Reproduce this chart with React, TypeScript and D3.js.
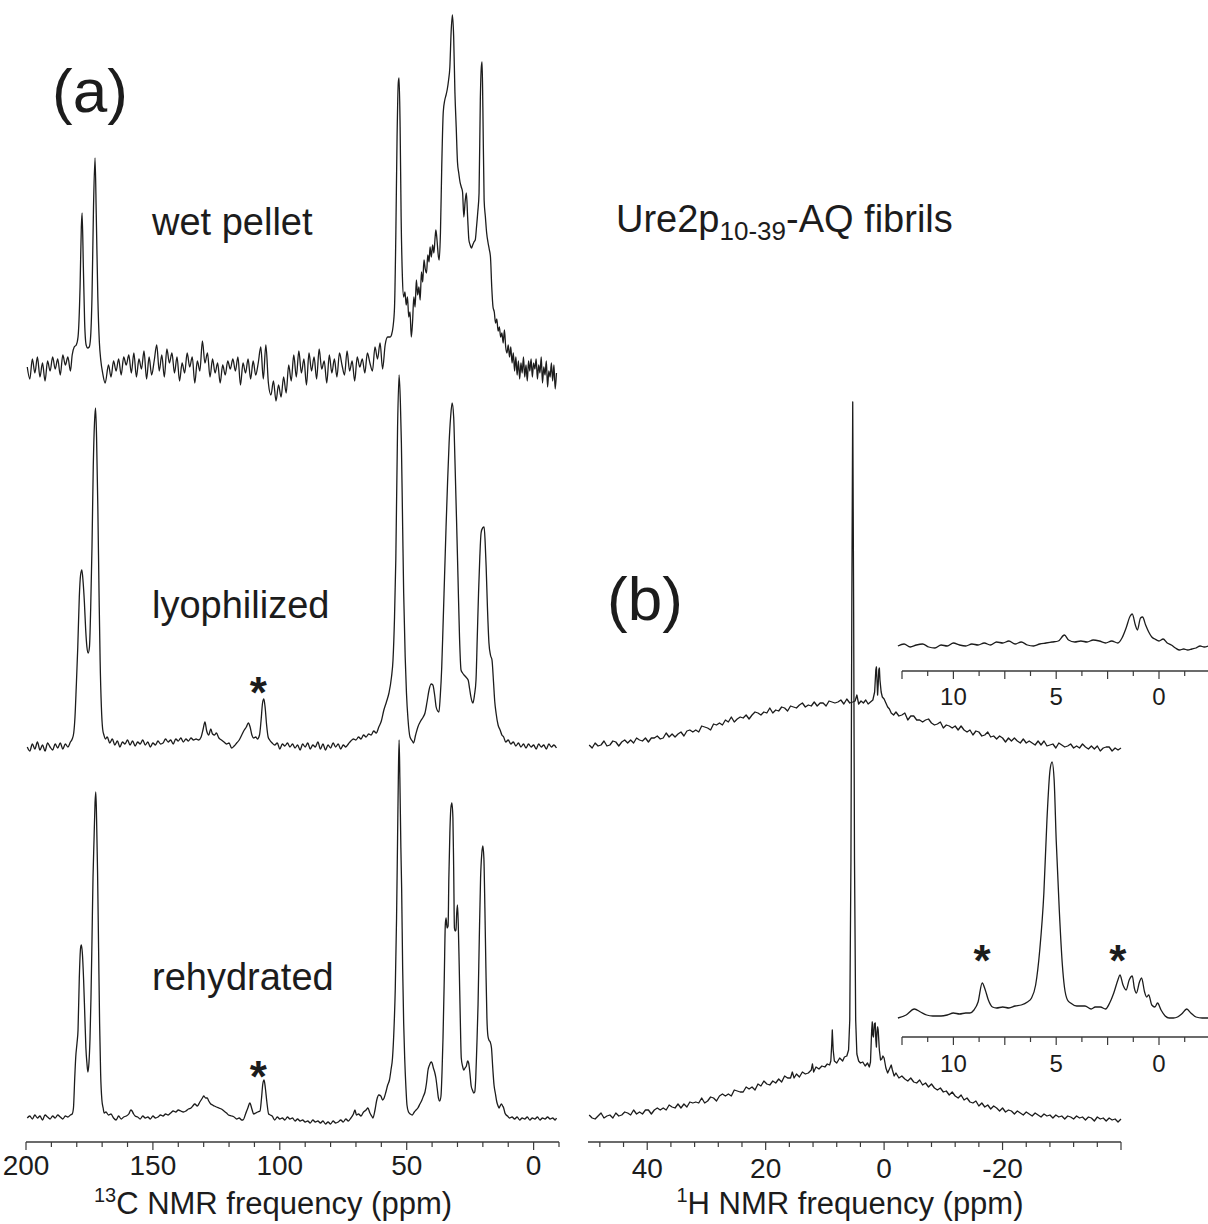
import React, { useEffect, useRef } from 'react';
import * as d3 from 'd3';

type Pt = [number, number];

// 13C CP spectra, [ppm, intensity a.u.]
const wetPellet: Pt[] = [
  [199.5, 0], [198.5, -12], [197.5, 8], [196.5, -6], [195.5, 10], [194.5, -10], [193.5, 4], [192.5, -14], [191.5, 6],
  [190.5, -4], [189.5, 10], [188.5, -2], [187.5, 8], [186.5, -8], [185.5, 12], [184.5, 2], [183.5, 10], [182.5, -4],
  [181.8, 12], [181, 20], [180.2, 22], [179.5, 30], [178.7, 80], [178.2, 140], [177.9, 154], [177.4, 100], [176.9, 45],
  [176.3, 22], [175.7, 19], [175.1, 20], [174.6, 28], [174, 70], [173.4, 160], [172.8, 209], [172.3, 150], [171.7, 70],
  [171.1, 25], [170.5, 6], [169.8, -6], [168.8, -16], [167.5, 2], [166.5, -10], [165.5, 6], [164.5, -4], [163.5, 8],
  [162.5, -8], [161.5, 10], [160.5, 2], [159.5, 12], [158.5, -6], [157.5, 14], [156.5, -10], [155.5, 8], [154.5, -2],
  [153.5, 16], [152.5, -12], [151.5, 10], [150.5, -8], [149.5, 6], [148.5, 22], [147.5, -4], [146.5, 12], [145.5, -10],
  [144.5, 18], [143.5, 4], [142.5, 14], [141.5, -6], [140.5, 10], [139.5, -14], [138.5, 4], [137.5, -6], [136.5, 14],
  [135.5, 0], [134.5, 10], [133.5, -16], [132.5, 6], [131.5, -4], [130.5, 26], [129.5, 4], [128.5, 14], [127.5, -10],
  [126.5, 8], [125.5, -6], [124.5, 4], [123.5, -16], [122.5, 2], [121.5, -8], [120.5, 6], [119.5, -2], [118.5, 8],
  [117.5, -4], [116.5, 10], [115.5, -18], [114.5, 4], [113.5, -6], [112.5, 8], [111.5, -12], [110.5, 6], [109.5, -8],
  [108.5, 4], [107.5, 20], [106.5, -12], [105.5, 22], [104.5, -16], [103.5, -28], [102.5, -14], [101.5, -34], [100.5, -18],
  [99.5, -30], [98.5, -10], [97.5, -26], [96.5, 2], [95.5, -14], [94.5, 12], [93.5, -10], [92.5, 16], [91.5, -6],
  [90.5, 8], [89.5, -18], [88.5, 14], [87.5, -4], [86.5, 10], [85.5, -12], [84.5, 18], [83.5, -2], [82.5, 6],
  [81.5, -16], [80.5, 12], [79.5, -6], [78.5, 8], [77.5, -10], [76.5, 14], [75.5, 2], [74.5, -8], [73.5, 16],
  [72.5, -4], [71.5, 6], [70.5, -14], [69.5, 10], [68.5, 0], [67.5, 8], [66.5, -6], [65.5, 14], [64.5, 4],
  [63.5, -4], [62.5, 20], [61.5, 8], [60.5, 24], [59.5, -2], [58.5, 22], [57.5, 30], [56.5, 30], [56, 32],
  [55.4, 40], [54.8, 60], [54.3, 130], [53.8, 230], [53.3, 285], [53, 289], [52.6, 240], [52.2, 150], [51.7, 90],
  [51.2, 70], [50.7, 75], [50.2, 62], [49.7, 70], [49.2, 50], [48.7, 55], [48.2, 30], [47.7, 45], [47.2, 70],
  [46.7, 60], [46.2, 87], [45.7, 72], [45.2, 80], [44.7, 67], [44.2, 95], [43.7, 85], [43.2, 107], [42.7, 98],
  [42.2, 94], [41.7, 112], [41.2, 105], [40.8, 120], [40.3, 110], [39.8, 122], [39.3, 114], [38.8, 130], [38.5, 137],
  [38, 125], [37.5, 110], [37.2, 107], [36.7, 135], [36.2, 200], [35.6, 255], [35, 267], [34.5, 272], [34, 278],
  [33.5, 287], [33, 300], [32.5, 335], [32, 352], [31.5, 330], [31, 274], [30.5, 240], [30, 205], [29.5, 194],
  [29, 185], [28.5, 180], [28, 175], [27.5, 150], [27, 165], [26.5, 174], [26, 150], [25.5, 127], [25, 122],
  [24.5, 119], [24, 122], [23.5, 125], [23, 127], [22.5, 140], [22, 155], [21.5, 174], [21, 267], [20.6, 300],
  [20.3, 305], [20, 260], [19.5, 167], [19, 150], [18.5, 134], [18, 125], [17.5, 118], [17, 110], [16.5, 80],
  [16, 60], [15.5, 55], [15, 44], [14.5, 48], [14, 36], [13.5, 40], [13, 30], [12.5, 34], [12, 24],
  [11.5, 37], [11, 20], [10.5, 14], [10, 22], [9.5, 10], [9, 20], [8.5, 4], [8, 14], [7.5, -4],
  [7, 10], [6.5, -8], [6, 6], [5.5, -12], [5, 4], [4.5, -6], [4, 10], [3.5, -10], [3, 2],
  [2.5, -14], [2, 6], [1.5, -4], [1, 8], [0.5, -10], [0, 4], [-0.5, -2], [-1, 8], [-1.5, -12],
  [-2, 2], [-2.5, -6], [-3, 10], [-3.5, -16], [-4, 0], [-4.5, -8], [-5, 6], [-5.5, -20], [-6, -4],
  [-6.5, -10], [-7, 4], [-7.5, -14], [-8, 2], [-8.5, -22], [-9, -6],
];

const lyophilized: Pt[] = [
  [199.5, 0], [198.5, -4], [197.5, 3], [196.5, -2], [195.5, 5], [194.5, -3], [193.5, 2], [192.5, -4], [191.5, 4],
  [190.5, 0], [189.5, -3], [188.5, 3], [187.5, -1], [186.5, 4], [185.5, -2], [184.5, 3], [183.5, 0], [182.5, 5],
  [181.8, 8], [181.2, 14], [180.7, 30], [180.2, 60], [179.6, 100], [179, 150], [178.5, 172], [178, 177], [177.5, 165],
  [177, 145], [176.5, 118], [176, 100], [175.5, 94], [175, 100], [174.5, 140], [174, 200], [173.5, 280], [173, 325],
  [172.6, 339], [172.2, 310], [171.7, 240], [171.2, 150], [170.8, 87], [170.3, 40], [169.8, 18], [169.3, 12], [168.7, 8],
  [168, 10], [167, 4], [166, 8], [165, 2], [164, 6], [163, 0], [162, 5], [161, 3], [160, 7],
  [159, 2], [158, 6], [157, 1], [156, 5], [155, 3], [154, 7], [153, 2], [152, 5], [151, 0],
  [150, 4], [149, 2], [148, 6], [147, 3], [146, 4], [145, 8], [144, 5], [143, 7], [142, 3],
  [141, 8], [140, 6], [139, 9], [138, 5], [137, 8], [136, 6], [135, 9], [134, 7], [133, 8],
  [132, 7], [131, 10], [130.2, 18], [129.5, 25], [128.8, 16], [128, 12], [127.2, 18], [126.5, 13], [125.7, 12],
  [125, 14], [124, 9], [123, 7], [122, 5], [121, 3], [120, 4], [119, -1], [118, 1], [117, 4],
  [116, 7], [115, 12], [114, 17], [113.2, 20], [112.4, 24], [111.7, 20], [111, 12], [110.3, 9], [109.5, 10],
  [108.8, 8], [108, 12], [107.4, 26], [106.8, 44], [106.3, 48], [105.8, 40], [105.2, 22], [104.6, 10], [104, 7],
  [103, 4], [102, 2], [101, 4], [100, -2], [99, 3], [98, 1], [97, 4], [96, 0], [95, 3],
  [94, -1], [93, 2], [92, -3], [91, 3], [90, 0], [89, 4], [88, -2], [87, 2], [86, 0],
  [85, 5], [84, -2], [83, 3], [82, -3], [81, 2], [80, -1], [79, 4], [78, 0], [77, 3],
  [76, -2], [75, 2], [74, 0], [73, 3], [72, 6], [71, 8], [70, 7], [69, 10], [68, 8],
  [67, 12], [66, 10], [65, 13], [64, 12], [63, 16], [62, 14], [61, 20], [60, 26], [59, 37],
  [58, 45], [57, 54], [56, 70], [55.4, 87], [54.8, 130], [54.3, 187], [53.6, 320], [53, 372], [52.5, 345],
  [52.1, 304], [51.6, 220], [51.2, 154], [50.6, 90], [50.1, 54], [49.5, 28], [48.7, 10], [47.8, 6], [47.3, 4],
  [46.5, 12], [45.6, 20], [44.5, 26], [43.5, 30], [42.8, 34], [42, 45], [41.2, 57], [40.4, 63], [39.7, 62],
  [39, 52], [38.4, 40], [37.8, 36], [37.3, 35], [36.8, 50], [36.2, 80], [35.7, 120], [35.1, 170], [34.5, 220],
  [33.9, 265], [33.3, 304], [32.7, 330], [32.1, 344], [31.5, 330], [31, 287], [30.4, 230], [29.8, 170], [29.2, 110],
  [28.6, 77], [28, 74], [27.4, 72], [26.7, 70], [25.8, 67], [25.2, 58], [24.7, 50], [24.2, 45], [23.9, 44],
  [23.3, 52], [22.7, 67], [22.2, 110], [21.7, 154], [21.2, 190], [20.7, 214], [20.1, 219], [19.5, 220], [19.1, 205],
  [18.7, 180], [18.2, 140], [17.6, 104], [17, 92], [16.4, 87], [15.8, 65], [15.3, 45], [14.8, 34], [14, 22],
  [13.2, 17], [12.5, 12], [11.8, 10], [11, 5], [10, 7], [9, 3], [8, 5], [7, 1], [6, 4],
  [5, 0], [4, 3], [3, -1], [2, 3], [1, 0], [0, 2], [-1, -2], [-2, 3], [-3, 0],
  [-4, 2], [-5, -2], [-6, 3], [-7, 0], [-8, 2], [-9, -1],
];

const rehydrated: Pt[] = [
  [199.5, 0], [198.5, 2], [197.5, -1], [196.5, 3], [195.5, 0], [194.5, 2], [193.5, -2], [192.5, 3], [191.5, 1],
  [190.5, -1], [189.5, 2], [188.5, 0], [187.5, 3], [186.5, 1], [185.5, -1], [184.5, 2], [183.5, 1], [182.5, 3],
  [181.8, 4], [181.3, 10], [180.8, 40], [180.4, 61], [179.9, 75], [179.5, 88], [179, 140], [178.5, 170], [178.2, 173],
  [177.8, 165], [177.3, 138], [176.8, 100], [176.4, 70], [176, 55], [175.6, 46], [175.2, 55], [174.8, 78], [174.4, 120],
  [174, 178], [173.6, 240], [173.2, 278], [172.8, 315], [172.5, 326], [172.2, 300], [171.8, 245], [171.4, 170], [171, 95],
  [170.6, 45], [170.1, 18], [169.6, 10], [169.2, 5], [168.5, 6], [167.5, 3], [166.5, 4], [165.5, 0], [164.5, -2],
  [163.5, 2], [162.5, -1], [161.5, 1], [160.5, 2], [159.5, 4], [158.7, 8], [158.2, 7], [157.6, 4], [157, 2],
  [156, 1], [155, -1], [154, 2], [153, 0], [152, 1], [151, -1], [150, 2], [149, 0], [148, 1],
  [147, 3], [146, 2], [145, 4], [144, 3], [143, 5], [142, 7], [141, 6], [140, 8], [139, 7],
  [138, 6], [137, 7], [136, 9], [135, 10], [134.3, 12], [133.5, 14], [132.5, 12], [131.5, 16], [130.5, 20],
  [130, 22], [129.2, 20], [128.6, 20], [128, 17], [127.2, 14], [126.5, 13], [125.8, 12], [125, 11], [124, 10],
  [123, 9], [122, 7], [121, 5], [120.2, 3], [119, 2], [118, 1], [117, -1], [116, 0], [115, -2],
  [114.5, -2], [113.5, 4], [112.6, 10], [111.8, 15], [111, 9], [110.3, 4], [109.5, 5], [108.7, 6], [107.8, 7],
  [107.2, 20], [106.7, 34], [106.2, 38], [105.7, 30], [105.1, 16], [104.4, 4], [103.7, 3], [103, 2], [102, -2],
  [101, 1], [100, -1], [99, 0], [98, -2], [97, 1], [96, -1], [95, 0], [94, -3], [93, -1],
  [92, -3], [91, -2], [90, -4], [89, -3], [88, -5], [87, -2], [86, -4], [85, -3], [84, -5],
  [83, -3], [82, -6], [81, -4], [80, -6], [79, -3], [78, -5], [77, -4], [76, -2], [75, -4],
  [74, -1], [73, -3], [72, 0], [71, 4], [70.4, 8], [69.8, 3], [69, 4], [68, 2], [67, 6],
  [66, 8], [65.3, 10], [64.5, 5], [63.8, 2], [63.3, 0], [62.5, 8], [61.8, 18], [61, 23], [60.2, 22],
  [59.5, 18], [58.9, 20], [58.2, 26], [57.5, 33], [56.8, 38], [56.2, 48], [55.6, 60], [55, 90], [54.5, 130],
  [54, 200], [53.6, 280], [53.3, 340], [53, 378], [52.7, 340], [52.3, 270], [52, 230], [51.6, 150], [51.2, 95],
  [50.8, 60], [50.3, 30], [49.9, 13], [49.3, 6], [48.6, 4], [47.8, 3], [47, 6], [46.3, 8], [45.6, 10],
  [44.8, 14], [44, 18], [43.4, 22], [42.8, 26], [42.2, 35], [41.6, 48], [41, 53], [40.4, 56], [40, 55],
  [39.5, 50], [39, 46], [38.5, 40], [38, 30], [37.5, 20], [37, 17], [36.5, 22], [36.1, 45], [35.7, 80],
  [35.2, 140], [34.8, 193], [34.5, 200], [34.1, 190], [33.7, 192], [33.4, 240], [33, 285], [32.6, 310], [32.2, 315],
  [31.8, 300], [31.5, 250], [31.2, 190], [30.9, 187], [30.6, 188], [30.3, 205], [30, 213], [29.7, 195], [29.3, 150],
  [28.9, 100], [28.5, 60], [28, 52], [27.5, 48], [27, 50], [26.5, 52], [26, 57], [25.6, 55], [25.1, 45],
  [24.6, 32], [24.1, 28], [23.6, 25], [23.2, 26], [22.8, 40], [22.4, 70], [21.9, 113], [21.4, 180], [20.9, 240],
  [20.4, 265], [20, 272], [19.6, 260], [19.2, 210], [18.8, 150], [18.4, 100], [18, 82], [17.6, 78], [17.1, 76],
  [16.6, 70], [16.1, 50], [15.6, 33], [15.1, 25], [14.5, 16], [14, 12], [13.6, 10], [13.2, 12], [12.7, 14],
  [12.2, 12], [11.8, 10], [11.3, 5], [10.8, 3], [10.3, 2], [9.5, 0], [8.5, 1], [7.5, -1], [6.5, 1],
  [5.5, -2], [4.5, 0], [3.5, -1], [2.5, 1], [1.5, -2], [0.5, 0], [-0.5, -1], [-1.5, 1], [-2.5, -2],
  [-3.5, 0], [-4.5, -1], [-5.5, 1], [-6.5, -1], [-7.5, 0], [-8.5, -2], [-9, 0],
];

// 1H MAS spectra (wide view)
const protonLyo: Pt[] = [
  [49.8, 5], [49.3, 2], [48.8, 7], [48.3, 4], [47.8, 5], [47.3, 9], [46.8, 4], [46.3, 5], [45.8, 9],
  [45.3, 8], [44.8, 4], [44.3, 8], [43.8, 10], [43.3, 7], [42.8, 10], [42.3, 7], [41.8, 12], [41.3, 10],
  [40.8, 9], [40.3, 12], [39.8, 8], [39.3, 12], [38.8, 12], [38.3, 14], [37.8, 11], [37.3, 12], [36.8, 17],
  [36.3, 13], [35.8, 16], [35.3, 13], [34.8, 16], [34.3, 18], [33.8, 14], [33.3, 19], [32.8, 20], [32.3, 18],
  [31.8, 20], [31.3, 18], [30.8, 24], [30.3, 23], [29.8, 22], [29.3, 20], [28.8, 26], [28.3, 25], [27.8, 27],
  [27.3, 25], [26.8, 30], [26.3, 28], [25.8, 33], [25.3, 28], [24.8, 31], [24.3, 33], [23.8, 32], [23.3, 35],
  [22.8, 31], [22.3, 35], [21.8, 38], [21.3, 37], [20.8, 35], [20.3, 38], [19.8, 37], [19.3, 42], [18.8, 37],
  [18.3, 40], [17.8, 39], [17.3, 43], [16.8, 42], [16.3, 39], [15.8, 44], [15.3, 43], [14.8, 42], [14.3, 45],
  [13.8, 47], [13.3, 43], [12.8, 45], [12.3, 44], [11.8, 48], [11.3, 44], [10.8, 47], [10.3, 47], [9.8, 44],
  [9.3, 49], [8.8, 48], [8.3, 47], [7.8, 48], [7.3, 50], [6.8, 46], [6.3, 51], [5.8, 47], [5.3, 48],
  [4.9, 49], [4.6, 55], [4.3, 46], [3.9, 49], [3.5, 47], [3.1, 50], [2.7, 46], [2.3, 48], [1.9, 50],
  [1.6, 58], [1.4, 80], [1.3, 83], [1.2, 70], [1.1, 55], [1, 65], [0.9, 80], [0.8, 82], [0.7, 70],
  [0.5, 58], [0.3, 53], [0, 51], [-0.3, 47], [-0.6, 43], [-0.9, 41], [-1.2, 37], [-1.6, 35], [-2, 38],
  [-2.5, 34], [-3, 35], [-3.5, 37], [-4, 30], [-4.5, 34], [-5, 34], [-5.5, 30], [-6, 30], [-6.5, 28],
  [-7, 30], [-7.5, 31], [-8, 27], [-8.5, 25], [-9, 26], [-9.5, 28], [-10, 22], [-10.5, 25], [-11, 24],
  [-11.5, 22], [-12, 24], [-12.5, 20], [-13, 24], [-13.5, 20], [-14, 18], [-14.5, 20], [-15, 15], [-15.5, 19],
  [-16, 18], [-16.5, 14], [-17, 15], [-17.5, 18], [-18, 13], [-18.5, 14], [-19, 11], [-19.5, 14], [-20, 12],
  [-20.5, 8], [-21, 12], [-21.5, 9], [-22, 12], [-22.5, 9], [-23, 7], [-23.5, 11], [-24, 7], [-24.5, 9],
  [-25, 7], [-25.5, 5], [-26, 9], [-26.5, 5], [-27, 9], [-27.5, 4], [-28, 5], [-28.5, 6], [-29, 2],
  [-29.5, 7], [-30, 5], [-30.5, 3], [-31, 4], [-31.5, 6], [-32, 2], [-32.5, 4], [-33, 2], [-33.5, 6],
  [-34, 3], [-34.5, 1], [-35, 4], [-35.5, 1], [-36, 4], [-36.5, -1], [-37, 2], [-37.5, 3], [-38, 3],
  [-38.5, -1], [-39, 2], [-39.5, 0], [-40, 2],
];

const protonRehyd: Pt[] = [
  [49.8, 5], [49.3, 2], [48.8, 1], [48.3, 4], [47.8, 7], [47.3, 2], [46.8, 4], [46.3, 5], [45.8, 2],
  [45.3, 7], [44.8, 4], [44.3, 5], [43.8, 8], [43.3, 7], [42.8, 5], [42.3, 10], [41.8, 6], [41.3, 8],
  [40.8, 6], [40.3, 10], [39.8, 10], [39.3, 6], [38.8, 10], [38.3, 12], [37.8, 10], [37.3, 12], [36.8, 10],
  [36.3, 15], [35.8, 13], [35.3, 12], [34.8, 16], [34.3, 12], [33.8, 16], [33.3, 13], [32.8, 18], [32.3, 17],
  [31.8, 18], [31.3, 17], [30.8, 22], [30.3, 17], [29.8, 19], [29.3, 23], [28.8, 22], [28.3, 19], [27.8, 24],
  [27.3, 26], [26.8, 24], [26.3, 26], [25.8, 24], [25.3, 30], [24.8, 29], [24.3, 28], [23.8, 28], [23.3, 33],
  [22.8, 31], [22.3, 33], [21.8, 30], [21.3, 36], [20.8, 34], [20.3, 39], [19.8, 36], [19.3, 35], [18.8, 39],
  [18.3, 37], [17.8, 41], [17.3, 38], [16.8, 44], [16.3, 42], [15.8, 42], [15.5, 48], [15.2, 42], [14.8, 46],
  [14.3, 43], [13.8, 48], [13.3, 46], [12.8, 47], [12.3, 50], [12.1, 56], [11.9, 48], [11.5, 53], [11, 51],
  [10.5, 54], [10, 53], [9.6, 56], [9.2, 55], [9, 59], [8.85, 75], [8.75, 90], [8.6, 70], [8.4, 59],
  [8, 57], [7.5, 62], [7, 59], [6.7, 63], [6.3, 64], [6, 70], [5.8, 100], [5.6, 260], [5.45, 520],
  [5.3, 718], [5.15, 520], [5, 260], [4.8, 100], [4.6, 66], [4.3, 59], [4, 57], [3.6, 58], [3.2, 54],
  [2.8, 57], [2.5, 53], [2.3, 58], [2.1, 90], [2, 98], [1.9, 85], [1.8, 83], [1.65, 96], [1.5, 97],
  [1.4, 80], [1.3, 73], [1.2, 88], [1.1, 93], [1, 90], [0.8, 70], [0.6, 60], [0.4, 61], [0.2, 64],
  [0, 62], [-0.3, 52], [-0.6, 47], [-0.9, 51], [-1.2, 55], [-1.4, 50], [-1.7, 44], [-2, 47], [-2.5, 42],
  [-3, 44], [-3.5, 41], [-4, 39], [-4.5, 42], [-5, 38], [-5.5, 37], [-6, 40], [-6.5, 35], [-7, 37],
  [-7.5, 33], [-8, 36], [-8.5, 32], [-9, 30], [-9.5, 32], [-10, 28], [-10.5, 29], [-11, 25], [-11.5, 28],
  [-12, 24], [-12.5, 22], [-13, 25], [-13.5, 20], [-14, 22], [-14.5, 18], [-15, 17], [-15.5, 19], [-16, 14],
  [-16.5, 17], [-17, 13], [-17.5, 15], [-18, 11], [-18.5, 14], [-19, 12], [-19.5, 9], [-20, 12], [-20.5, 8],
  [-21, 10], [-21.5, 9], [-22, 6], [-22.5, 9], [-23, 7], [-23.5, 5], [-24, 8], [-24.5, 6], [-25, 4],
  [-25.5, 7], [-26, 5], [-26.5, 3], [-27, 6], [-27.5, 4], [-28, 5], [-28.5, 2], [-29, 5], [-29.5, 3],
  [-30, 4], [-30.5, 1], [-31, 4], [-31.5, 3], [-32, 1], [-32.5, 4], [-33, 2], [-33.5, 3], [-34, 0],
  [-34.5, 3], [-35, 2], [-35.5, -1], [-36, 3], [-36.5, 1], [-37, 2], [-37.5, -1], [-38, 2], [-38.5, 0],
  [-39, 1], [-39.5, -2], [-40, 1],
];

// 1H insets (expanded 12.5 .. -2.5 ppm)
const insetLyo: Pt[] = [
  [12.7, 4], [12.4, 6], [12.1, 3], [11.8, 5], [11.5, 6], [11.2, 3], [10.9, 2], [10.6, 5], [10.3, 4],
  [10, 7], [9.7, 5], [9.4, 4], [9.1, 6], [8.8, 5], [8.5, 7], [8.2, 5], [7.9, 8], [7.6, 7],
  [7.3, 9], [7, 6], [6.7, 8], [6.4, 5], [6.1, 4], [5.8, 6], [5.5, 7], [5.2, 8], [4.9, 9],
  [4.6, 15], [4.4, 10], [4.1, 8], [3.8, 9], [3.5, 8], [3.2, 10], [2.9, 9], [2.6, 7], [2.3, 9],
  [2, 7], [1.8, 12], [1.6, 22], [1.4, 34], [1.3, 36], [1.15, 25], [1.05, 20], [0.9, 32], [0.8, 33],
  [0.65, 25], [0.5, 18], [0.35, 13], [0.2, 11], [0, 9], [-0.2, 11], [-0.4, 7], [-0.6, 5], [-0.8, 2],
  [-1, 0], [-1.2, 1], [-1.4, 0], [-1.6, 1], [-1.8, 2], [-2, 4], [-2.2, 3], [-2.4, 4],
];

const insetRehyd: Pt[] = [
  [12.7, 2], [12.3, 5], [11.9, 11], [11.6, 8], [11.3, 5], [11, 4], [10.6, 4], [10.3, 5], [10, 7],
  [9.7, 6], [9.4, 7], [9.2, 7], [9, 10], [8.8, 18], [8.6, 37], [8.45, 30], [8.3, 20], [8.1, 13],
  [7.9, 12], [7.6, 13], [7.3, 12], [7, 14], [6.7, 15], [6.4, 18], [6.2, 22], [6, 35], [5.8, 70],
  [5.6, 127], [5.45, 200], [5.3, 250], [5.2, 258], [5.1, 240], [5, 180], [4.85, 110], [4.7, 55], [4.6, 33],
  [4.45, 20], [4.3, 17], [4, 14], [3.6, 14], [3.3, 11], [3.1, 13], [2.85, 13], [2.6, 11], [2.4, 17],
  [2.2, 27], [2, 40], [1.9, 45], [1.75, 35], [1.6, 30], [1.45, 40], [1.3, 44], [1.2, 32], [1.1, 27],
  [0.95, 38], [0.85, 42], [0.7, 28], [0.6, 23], [0.5, 25], [0.35, 15], [0.2, 13], [0.07, 17], [-0.1, 10],
  [-0.3, 4], [-0.5, 2], [-0.7, 2], [-0.9, 3], [-1.1, 6], [-1.35, 11], [-1.55, 7], [-1.8, 3], [-2.1, 2],
  [-2.4, 2],
];

const carbonTicks = [200, 150, 100, 50, 0];
const protonTicks = [40, 20, 0, -20];
const insetTicks = [10, 5, 0];
const sampleNames = ['wet pellet', 'lyophilized', 'rehydrated'];
const carbonStars = [108.5, 108.5];
const insetStars = [8.6, 2.0];

const FONT = '"Liberation Sans", Arial, Helvetica, sans-serif';
const INK = '#1c1c1c';

export default function App() {
  const svgRef = useRef<SVGSVGElement>(null);

  useEffect(() => {
    if (!svgRef.current) return;
    const svg = d3.select(svgRef.current);
    svg.selectAll('*').remove();

    const xC = d3.scaleLinear().domain([200, -10]).range([26, 559]);
    const xH = d3.scaleLinear().domain([50, -40]).range([588, 1121]);
    const xIn = d3.scaleLinear().domain([12.5, 0]).range([902, 1159]);

    // jagged = raw digitised look for the wide 1H traces
    const traces = [
      { data: wetPellet, x: xC, base: 367, top: 15, jagged: false },
      { data: lyophilized, x: xC, base: 747, top: 375, jagged: false },
      { data: rehydrated, x: xC, base: 1118, top: 740, jagged: false },
      { data: protonLyo, x: xH, base: 750, top: 667, jagged: true },
      { data: protonRehyd, x: xH, base: 1120, top: 402, jagged: true },
      { data: insetLyo, x: xIn, base: 650, top: 614, jagged: false },
      { data: insetRehyd, x: xIn, base: 1020, top: 762, jagged: false },
    ];

    traces.forEach(t => {
      const y = d3.scaleLinear()
        .domain([0, d3.max(t.data, d => d[1]) as number])
        .range([t.base, t.top]);
      const line = d3.line<Pt>()
        .x(d => t.x(d[0]))
        .y(d => y(d[1]))
        .curve(t.jagged ? d3.curveLinear : d3.curveMonotoneX);
      svg.append('path')
        .datum(t.data)
        .attr('d', line)
        .attr('fill', 'none')
        .attr('stroke', INK)
        .attr('stroke-width', 1.3)
        .attr('stroke-linejoin', 'round');
    });

    // axis helper: baseline, ticks (long/short) and labels
    const drawAxis = (x: d3.ScaleLinear<number, number>, y0: number, from: number, to: number,
      ticks: number[], isMajor: (v: number) => boolean, labels: number[], labelY: number, fs: number) => {
      const g = svg.append('g');
      g.append('line')
        .attr('x1', x(from)).attr('x2', Math.min(x(to), 1208))
        .attr('y1', y0).attr('y2', y0)
        .attr('stroke', '#3a3a3a').attr('stroke-width', 1.3);
      g.selectAll('line.tick')
        .data(ticks.filter(v => x(v) <= 1208))
        .enter().append('line')
        .attr('class', 'tick')
        .attr('x1', d => x(d)).attr('x2', d => x(d))
        .attr('y1', y0).attr('y2', d => y0 + (isMajor(d) ? 8 : 5))
        .attr('stroke', '#3a3a3a').attr('stroke-width', 1.2);
      g.selectAll('text')
        .data(labels)
        .enter().append('text')
        .attr('x', d => x(d))
        .attr('y', labelY)
        .attr('text-anchor', 'middle')
        .attr('font-family', FONT)
        .attr('font-size', fs)
        .attr('fill', INK)
        .text(d => String(d));
    };

    drawAxis(xC, 1142, 200, -10, d3.range(200, -11, -10), v => v % 50 === 0, carbonTicks, 1175, 28);
    drawAxis(xH, 1142, 50, -40, d3.range(48, -41, -4), v => v % 20 === 0, protonTicks, 1178, 28);
    const inMajor = (v: number) => Math.abs(v / 2.5 - Math.round(v / 2.5)) < 1e-6;
    drawAxis(xIn, 671, 12.5, -2.4, d3.range(12.5, -2.6, -1.25), inMajor, insetTicks, 705, 24);
    drawAxis(xIn, 1037, 12.5, -2.4, d3.range(12.5, -2.6, -1.25), inMajor, insetTicks, 1072, 24);

    const text = (x: number, y: number, s: string, fs: number, anchor = 'start', weight = 'normal') =>
      svg.append('text')
        .attr('x', x).attr('y', y)
        .attr('font-family', FONT).attr('font-size', fs).attr('font-weight', weight)
        .attr('fill', INK).attr('text-anchor', anchor)
        .text(s);

    // panel letters
    text(52, 112, '(a)', 62);
    text(607, 620, '(b)', 62);

    // sample names
    const nameY = [235, 618, 990];
    sampleNames.forEach((n, i) => text(152, nameY[i], n, 38));

    // asterisks for spinning sidebands
    const starY = [708, 1092];
    carbonStars.forEach((p, i) => text(xC(p), starY[i], '*', 44, 'middle', 'bold'));
    insetStars.forEach(p => text(xIn(p), 976, '*', 44, 'middle', 'bold'));

    // sample title with subscript
    const title = svg.append('text')
      .attr('x', 616).attr('y', 232)
      .attr('font-family', FONT).attr('font-size', 38).attr('fill', INK);
    title.append('tspan').text('Ure2p');
    title.append('tspan').attr('font-size', 26).attr('dy', 8).text('10-39');
    title.append('tspan').attr('dy', -8).text('-AQ fibrils');

    // axis titles with superscript mass numbers
    const axisTitle = (cx: number, sup: string, rest: string) => {
      const t = svg.append('text')
        .attr('x', cx).attr('y', 1214)
        .attr('text-anchor', 'middle')
        .attr('font-family', FONT).attr('font-size', 31).attr('fill', INK);
      t.append('tspan').attr('font-size', 20).attr('dy', -12).text(sup);
      t.append('tspan').attr('dy', 12).text(rest);
    };
    axisTitle(273, '13', 'C NMR frequency (ppm)');
    axisTitle(850, '1', 'H NMR frequency (ppm)');
  }, []);

  return (
    <div style={{ position: 'absolute', left: 0, top: 0, background: '#fff' }}>
      <svg ref={svgRef} width={1208} height={1224} style={{ display: 'block' }}></svg>
    </div>
  );
}
